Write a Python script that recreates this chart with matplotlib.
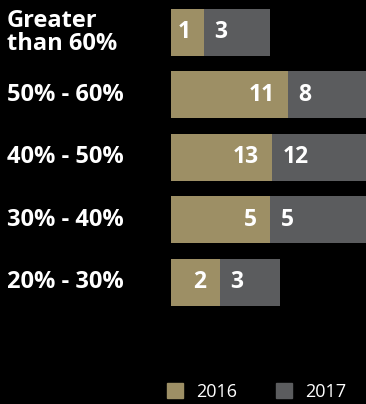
"""Horizontal stacked bars, 2016 vs 2017, by range bucket."""

import matplotlib
matplotlib.use("Agg")
import matplotlib.pyplot as plt
from matplotlib.patches import Patch
from matplotlib.transforms import blended_transform_factory

# data
categories = ["Greater\nthan 60%", "50% - 60%", "40% - 50%", "30% - 40%", "20% - 30%"]
labels_2016 = [1, 11, 13, 5, 2]
labels_2017 = [3, 8, 12, 5, 3]
# bar lengths are not proportional to the counts
share_2016 = [17, 60, 52, 51, 25]
share_2017 = [34, 48, 55, 54, 31]
years = ["2016", "2017"]

C16 = "#9d8f65"
C17 = "#5b5c5e"

plt.rcParams["font.family"] = ["Open Sans", "DejaVu Sans"]

fig = plt.figure(figsize=(3.66, 4.04), dpi=100, facecolor="black")
ax = fig.add_axes([171 / 366, 1 - 313.5 / 404, 195 / 366, 312.5 / 404])
ax.set_facecolor("black")
for s in ax.spines.values():
    s.set_visible(False)
ax.set_xticks([])
ax.set_yticks([])

ypos = list(range(len(categories)))
ax.barh(ypos, share_2016, height=0.75, color=C16)
ax.barh(ypos, share_2017, left=share_2016, height=0.75, color=C17)
ax.set_xlim(0, 100)
ax.set_ylim(4.5, -0.5)

for y, a, b, la, lb in zip(ypos, share_2016, share_2017, labels_2016, labels_2017):
    ax.annotate(str(la), (a, y), xytext=(-9.5, 0), textcoords="offset points",
                ha="right", va="center", color="white", fontsize=16.5,
                fontweight="bold")
    ax.annotate(str(lb), (a, y), xytext=(7.5, 0), textcoords="offset points",
                ha="left", va="center", color="white", fontsize=16.5,
                fontweight="bold")

tr = blended_transform_factory(fig.transFigure, ax.transData)
for y, cat in zip(ypos, categories):
    ax.text(7 / 366, y, cat, transform=tr, ha="left", va="center",
            color="white", fontsize=17, fontweight="bold",
            linespacing=0.92, clip_on=False)

handles = [Patch(color=C16), Patch(color=C17)]
fig.legend(handles, years, loc="center left",
           bbox_to_anchor=(167 / 366, 1 - 392 / 404), ncol=2, frameon=False,
           fontsize=13, labelcolor="white", handlelength=0.87,
           handleheight=0.87, handletextpad=0.72, columnspacing=2.2,
           borderpad=0, borderaxespad=0)

fig.savefig("out.png", dpi=100, facecolor="black")
